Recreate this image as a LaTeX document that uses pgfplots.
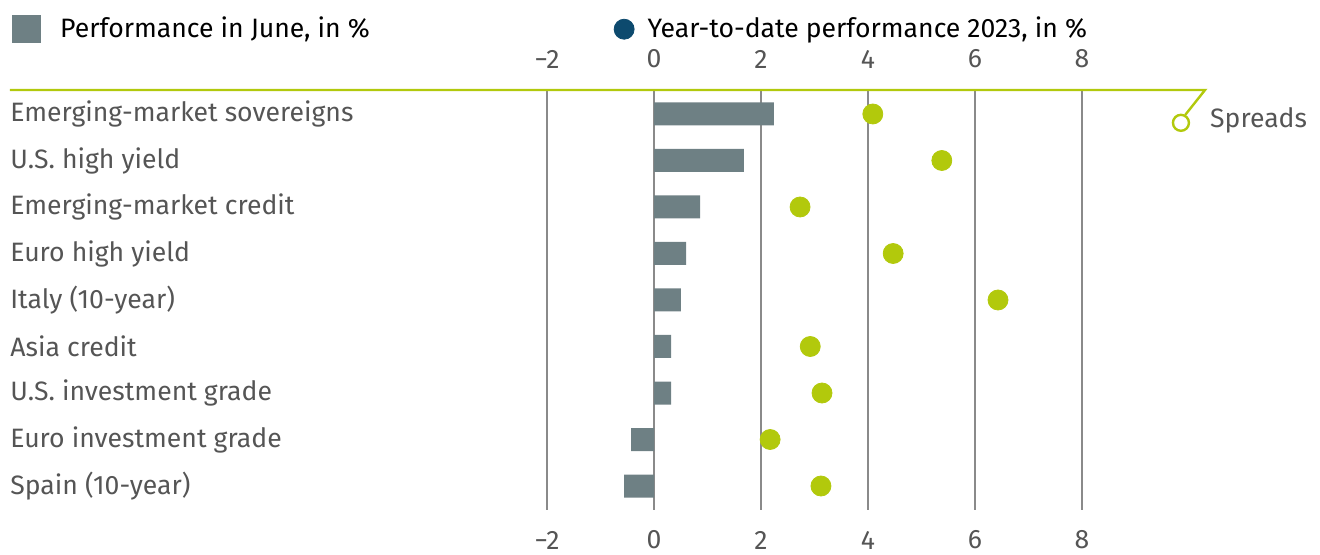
\documentclass[border=0pt]{standalone}
\usepackage{pgfplots}
\pgfplotsset{compat=1.18}
\usepackage{fontspec}
\setmainfont{Fira Sans}

\definecolor{barcol}{HTML}{6E8084}
\definecolor{dotcol}{HTML}{B2C90C}
\definecolor{navy}{HTML}{0D4A6E}
\definecolor{labgray}{HTML}{555555}
\definecolor{gridgray}{HTML}{8A8A8A}

\begin{document}
\fontsize{13.3pt}{15pt}\selectfont
\begin{tikzpicture}
\path[use as bounding box] (-5pt,-22.5pt) rectangle (655pt,255pt);

% top tick labels only
\begin{axis}[
  at={(0,0)}, anchor=south west,
  scale only axis, width=597.5pt, height=210pt,
  xmin=-12.04, xmax=10.30, ymin=0.484, ymax=9.516,
  axis line style={draw=none},
  xtick={-2,0,2,4,6,8},
  xticklabels={−2,0,2,4,6,8},
  xticklabel pos=upper,
  xticklabel style={anchor=center, yshift=15.5pt, text=labgray},
  ytick=\empty,
  major tick length=0pt,
]
\addplot[draw=none] coordinates {(0,1)};
\end{axis}

\begin{axis}[
  at={(0,0)}, anchor=south west,
  scale only axis, width=597.5pt, height=210pt,
  xmin=-12.04, xmax=10.30, ymin=0.484, ymax=9.516,
  y dir=reverse,
  clip=false,
  axis line style={draw=none},
  major tick length=0pt,
  xtick={-2,0,2,4,6,8},
  xticklabels={−2,0,2,4,6,8},
  xticklabel style={anchor=center, yshift=-15pt, text=labgray},
  xmajorgrids,
  grid style={gridgray, line width=0.7pt},
  ytick={1,...,9},
  yticklabels={Emerging-market sovereigns,U.S. high yield,Emerging-market credit,Euro high yield,Italy (10-year),Asia credit,U.S. investment grade,Euro investment grade,Spain (10-year)},
  yticklabel style={anchor=west, inner sep=0pt, text=labgray},
  legend style={draw=none, fill=none, at={(axis description cs:0,1)},
    anchor=south west, xshift=1pt, yshift=22pt, inner sep=0pt,
    legend cell align=left,
    /tikz/every even column/.append style={column sep=120pt},
    nodes={inner sep=2pt}},
  legend columns=2,
]
\addlegendimage{legend image code/.code={\fill[barcol] (0pt,-6.75pt) rectangle (14pt,6.75pt);}}
\addlegendentry{\hspace{7.5pt}Performance in June, in \%}
\addlegendimage{legend image code/.code={\fill[navy] (5pt,0pt) circle (5pt);}}
\addlegendentry{\hspace{4.5pt}Year-to-date performance 2023, in \%}

\addplot[xbar, bar width=11.5pt, fill=barcol, draw=none, forget plot] coordinates {
(2.24,1) (1.68,2) (0.86,3) (0.60,4) (0.50,5) (0.32,6) (0.32,7) (-0.43,8) (-0.56,9)};

\addplot[only marks, mark=*, mark size=5pt, dotcol, forget plot] coordinates {
(4.09,1) (5.38,2) (2.73,3) (4.47,4) (6.43,5) (2.92,6) (3.14,7) (2.17,8) (3.12,9)};

\draw[dotcol, line width=1.2pt] (axis cs:-12.04,0.484) -- (axis cs:10.30,0.484) -- (axis cs:9.93,1.02);
\draw[dotcol, line width=1.2pt, fill=white] (axis cs:9.85,1.19) circle (4pt);
\node[anchor=west, inner sep=0pt, text=labgray] at (axis cs:10.39,1.13) {Spreads};
\end{axis}
\end{tikzpicture}
\end{document}
